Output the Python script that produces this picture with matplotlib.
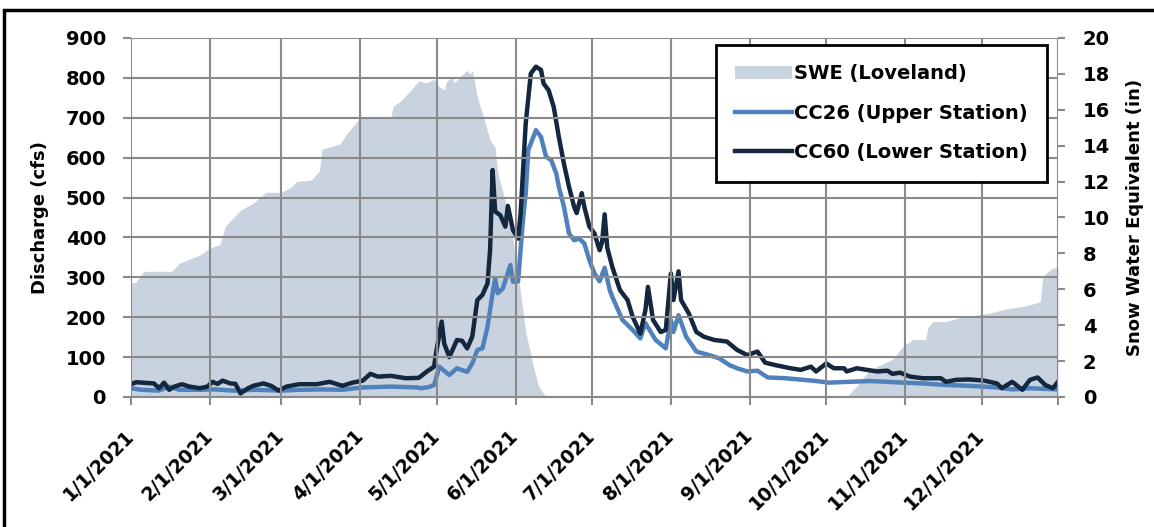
import matplotlib
matplotlib.use("Agg")
import matplotlib.pyplot as plt
from matplotlib.patches import Patch, Rectangle
from matplotlib.lines import Line2D
import pandas as pd

plt.rcParams["font.family"] = ["DejaVu Sans"]
plt.rcParams["font.weight"] = "bold"

# --- data (day of year offset from 1/1/2021) ---
swe_day = [0, 2, 5, 16, 19, 27, 31, 35, 37, 43, 48, 53, 59, 63, 65, 71, 74, 75, 82, 85, 89, 90,
           102, 103, 106, 110, 113, 116, 119, 120, 123, 124, 126, 127, 129, 132, 133, 134, 136,
           138, 141, 143, 144, 146, 149, 151, 153, 155, 158, 160, 163, 281, 285, 290, 299, 303,
           307, 312, 313, 315, 320, 325, 338, 342, 352, 357, 358, 361, 364]
swe_in = [6.35, 6.4, 7.0, 7.0, 7.45, 7.9, 8.3, 8.5, 9.5, 10.4, 10.8, 11.4, 11.4, 11.7, 12.0, 12.1,
          12.6, 13.8, 14.1, 14.7, 15.4, 15.6, 15.6, 16.2, 16.5, 17.1, 17.6, 17.5, 17.7, 17.4, 17.1,
          17.6, 17.8, 17.5, 17.8, 18.2, 18.0, 18.2, 16.7, 15.8, 14.3, 13.9, 12.5, 11.4, 9.9, 7.6,
          5.8, 3.6, 1.7, 0.6, 0.0, 0.0, 0.6, 1.5, 2.1, 2.8, 3.2, 3.2, 3.9, 4.2, 4.2, 4.4, 4.7,
          4.85, 5.1, 5.3, 6.7, 7.1, 7.3]

cc26_day = [0, 4, 11, 15, 19, 27, 33, 40, 49, 59, 66, 75, 83, 91, 102, 112, 114, 117, 119, 120,
            121, 125, 128, 132, 134, 136, 138, 140, 142, 143, 144, 146, 149, 150, 152, 153, 154,
            155, 156, 158, 159, 161, 163, 165, 167, 168, 170, 172, 174, 176, 178, 180, 182, 184,
            186, 188, 189, 193, 197, 200, 202, 206, 210, 212, 213, 215, 218, 222, 227, 231, 235,
            238, 242, 246, 250, 257, 264, 269, 274, 282, 290, 297, 303, 311, 320, 329, 340, 346,
            353, 364]
cc26_cfs = [22, 18, 16, 26, 18, 18, 19, 16, 18, 16, 18, 19, 18, 24, 26, 24, 22, 25, 30, 51,
            76, 55, 72, 63, 84, 118, 122, 176, 260, 297, 260, 272, 331, 289, 290, 370, 450,
            511, 619, 652, 669, 652, 602, 594, 560, 527, 477, 410, 393, 397, 385, 343, 310, 290,
            324, 268, 251, 193, 168, 147, 185, 143, 122, 193, 163, 205, 151, 114, 105, 97, 80,
            72, 64, 66, 49, 47, 43, 40, 36, 38, 40, 38, 36, 34, 30, 28, 24, 19,
            22, 19]

cc60_day = [0, 2, 9, 11, 13, 15, 17, 20, 23, 27, 30, 32, 34, 36, 39, 41, 43, 46, 48, 52, 55, 58,
            61, 66, 73, 78, 83, 87, 91, 94, 97, 102, 108, 113, 116, 119, 120, 122, 123, 125, 128,
            130, 132, 134, 136, 138, 140, 141, 142, 143, 145, 147, 148, 150, 152, 153, 155, 157,
            159, 161, 162, 164, 166, 168, 170, 172, 174, 175, 177, 178, 180, 182, 184, 185, 186,
            187, 189, 192, 195, 197, 200, 202, 203, 205, 208, 210, 212, 213, 215, 216, 219, 222,
            225, 229, 234, 238, 242, 246, 249, 253, 259, 263, 267, 269, 273, 276, 280, 281, 285,
            289, 293, 297, 299, 302, 306, 311, 318, 320, 324, 329, 335, 340, 342, 346, 350, 353,
            356, 359, 362, 364]
cc60_cfs = [32, 37, 34, 22, 36, 18, 26, 32, 26, 22, 26, 38, 33, 41, 34, 33, 9, 22, 28, 34, 28, 16,
            26, 32, 32, 38, 28, 36, 41, 58, 51, 53, 47, 48, 63, 76, 118, 189, 134, 100, 143,
            141, 122, 151, 243, 256, 285, 368, 569, 465, 456, 427, 479, 418, 397, 460, 686, 811,
            828, 820, 786, 769, 727, 652, 585, 527, 477, 461, 511, 477, 427, 410, 368, 389, 458,
            375, 326, 268, 243, 201, 159, 218, 276, 193, 163, 168, 310, 243, 315, 243, 210, 163,
            151, 143, 139, 118, 105, 114, 86, 80, 72, 68, 76, 64, 84, 72, 72, 64, 72,
            68, 64, 66, 58, 61, 51, 47, 47, 38, 43, 44, 41, 34, 22, 38, 18, 43,
            49, 30, 22, 38]

month_labels = ["1/1/2021", "2/1/2021", "3/1/2021", "4/1/2021", "5/1/2021", "6/1/2021",
                "7/1/2021", "8/1/2021", "9/1/2021", "10/1/2021", "11/1/2021", "12/1/2021"]

start = pd.Timestamp("2021-01-01")
swe_dates = start + pd.to_timedelta(swe_day, unit="D")
cc26_dates = start + pd.to_timedelta(cc26_day, unit="D")
cc60_dates = start + pd.to_timedelta(cc60_day, unit="D")

fill_color = "#c9d2df"
cc26_color = "#4f81bd"
cc60_color = "#13273f"
grid_color = "#8a8a8a"

fig = plt.figure(figsize=(11.54, 5.27), dpi=100)
ax1 = fig.add_axes([0.1135, 0.2467, 0.8033, 0.6812])
ax2 = ax1.twinx()

# SWE area on the right axis, drawn behind the discharge axis
ax2.fill_between(swe_dates, swe_in, 0, color=fill_color, lw=0)
ax2.set_ylim(0, 20)
ax2.set_yticks(range(0, 21, 2))
ax1.set_zorder(ax2.get_zorder() + 1)
ax1.patch.set_visible(False)

ax1.plot(cc26_dates, cc26_cfs, color=cc26_color, lw=3.2)
ax1.plot(cc60_dates, cc60_cfs, color=cc60_color, lw=3.2)

ax1.set_ylim(0, 900)
ax1.set_yticks(range(0, 901, 100))
ax1.set_xlim(start, pd.Timestamp("2021-12-31"))
xt = list(pd.to_datetime(month_labels, format="%m/%d/%Y")) + [pd.Timestamp("2021-12-31")]
ax1.set_xticks(xt)
ax1.set_xticklabels(month_labels + [""], rotation=45, ha="right", va="center",
                    rotation_mode="anchor", fontsize=13.5, fontweight="bold")
ax1.grid(True, color=grid_color, lw=1.5)
ax1.set_axisbelow(False)

for ax in (ax1, ax2):
    for s in ax.spines.values():
        s.set_visible(False)
ax1.spines["bottom"].set_visible(True)
ax1.spines["bottom"].set_color(grid_color)
ax1.spines["bottom"].set_linewidth(1.5)

ax1.tick_params(axis="y", length=6, width=1.5, color=grid_color, labelsize=14, pad=12)
ax1.tick_params(axis="x", length=6, width=1.5, color=grid_color, pad=20)
ax2.tick_params(axis="y", length=5, width=1.5, color=grid_color, labelsize=14, pad=13)
for lab in ax1.get_yticklabels() + ax2.get_yticklabels():
    lab.set_fontweight("bold")

ax1.set_ylabel("Discharge (cfs)", fontsize=13, fontweight="bold", labelpad=12)
ax2.set_ylabel("Snow Water Equivalent (in)", fontsize=13, fontweight="bold", labelpad=11)

handles = [Patch(facecolor=fill_color, edgecolor="none"),
           Line2D([], [], color=cc26_color, lw=3.2),
           Line2D([], [], color=cc60_color, lw=3.2)]
labels = ["SWE (Loveland)", "CC26 (Upper Station)", "CC60 (Lower Station)"]
leg = ax1.legend(handles, labels, loc="upper right", bbox_to_anchor=(0.988, 0.9805),
                 borderaxespad=0, fancybox=False, framealpha=1, edgecolor="black",
                 prop={"size": 14, "weight": "bold"}, handlelength=2.9,
                 labelspacing=1.05, borderpad=1.0, handletextpad=0.1)
leg.get_frame().set_linewidth(2)

# outer border of the original image
fig.patches.append(Rectangle((4 / 1154, -0.1), 1.2, 1.1 - 10 / 527, transform=fig.transFigure,
                             fill=False, edgecolor="black", lw=2.5))

fig.savefig("out.png", dpi=100)
